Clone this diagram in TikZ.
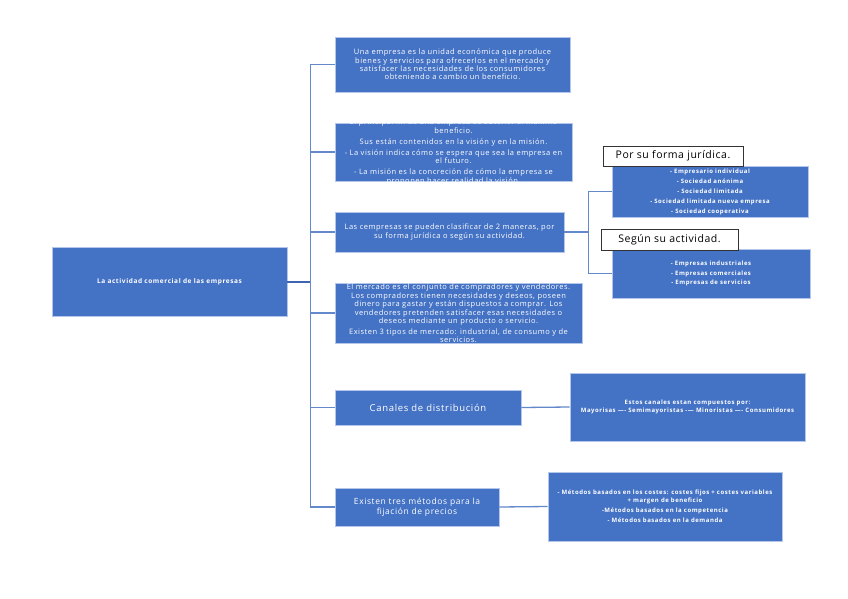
\documentclass[tikz,border=0pt]{standalone}
\usepackage{fontspec}
\setmainfont{Open Sans}
\newfontfamily\boxfont[LetterSpace=7]{Open Sans}
\newfontfamily\smallfont[LetterSpace=9]{Open Sans}
\newfontfamily\tagfont[LetterSpace=5]{Open Sans}
\begin{document}
\begin{tikzpicture}[x=1pt,y=-1pt,
  box/.style={draw=boxedge, line width=0.6pt, fill=boxblue, inner sep=0pt, text=white, align=center},
  txt/.style={inner sep=0pt, text=white, align=center},
  tag/.style={draw=black!80, line width=0.8pt, fill=white, inner sep=0pt, text=black, align=center, font=\tagfont\fontsize{10.5}{12}\selectfont},
  main/.style={draw=trunkblue, line width=2pt},
  link/.style={draw=linkblue, line width=1.3pt}]
\definecolor{boxblue}{HTML}{4472C4}
\definecolor{boxedge}{HTML}{B4C7EB}
\definecolor{trunkblue}{HTML}{3F64B0}
\definecolor{linkblue}{HTML}{6388CB}
\useasboundingbox (0,0) rectangle (848,599);
\fill[white] (0,0) rectangle (848,599);
% boxes
\node[box, minimum width=235pt, minimum height=69pt, font=\smallfont\bfseries\fontsize{6.5}{8}\selectfont] (root) at (169.5,281.5) {La actividad comercial de las empresas};
\node[box, minimum width=235pt, minimum height=55pt, font=\boxfont\fontsize{7.5}{8.3}\selectfont] (A) at (452.5,64.5)
 {Una empresa es la unidad económica que produce\\bienes y servicios para ofrecerlos en el mercado y\\satisfacer las necesidades de los consumidores\\obteniendo a cambio un beneficio.};
\node[box, minimum width=237pt, minimum height=58pt] (B) at (453.5,152) {};
\node[box, minimum width=229pt, minimum height=40pt, font=\boxfont\fontsize{7.5}{8.3}\selectfont] (C) at (449.5,232)
 {Las cempresas se pueden clasificar de 2 maneras, por\\su forma jurídica o según su actividad.};
\node[box, minimum width=247pt, minimum height=60pt] (D) at (458.5,313) {};
\node[box, minimum width=186pt, minimum height=35pt, font=\boxfont\fontsize{9.5}{11}\selectfont] (E) at (428,407.5) {Canales de distribución};
\node[box, minimum width=164pt, minimum height=38pt, font=\boxfont\fontsize{8.5}{10}\selectfont] (F) at (417,507)
 {Existen tres métodos para la\\fijación de precios};
\node[box, minimum width=196pt, minimum height=51pt, font=\smallfont\bfseries\fontsize{6}{10}\selectfont] (G) at (710,191.5)
 {- Empresario individual\\- Sociedad anónima\\- Sociedad limitada\\- Sociedad limitada nueva empresa\\- Sociedad cooperativa};
\node[box, minimum width=198pt, minimum height=49pt, font=\smallfont\bfseries\fontsize{6}{9.5}\selectfont] (H) at (711,273.5)
 {- Empresas industriales\\- Empresas comerciales\\- Empresas de servicios};
\node[box, minimum width=235pt, minimum height=68pt, font=\smallfont\bfseries\fontsize{6}{8}\selectfont] (I) at (687.5,407)
 {Estos canales estan compuestos por:\\Mayorisas —- Semimayoristas -— Minoristas —- Consumidores};
\node[box, minimum width=234pt, minimum height=69pt, font=\smallfont\bfseries\fontsize{6}{8}\selectfont] (J) at (665,506.5)
 {- Métodos basados en los costes: costes fijos + costes variables\\+ margen de beneficio\\[2pt]-Métodos basados en la competencia\\[2pt]- Métodos basados en la demanda};
% overflowing texts (white text invisible outside box)
\begin{scope}
\clip (B.north west) rectangle (B.south east);
\node[txt, font=\boxfont\fontsize{7.5}{8.5}\selectfont] (Btext) at (B.center)
 {El principal fin de una empresa es obtener el máximo\\beneficio.\\[2.5pt]Sus están contenidos en la visión y en la misión.\\[2.5pt]- La visión indica cómo se espera que sea la empresa en\\el futuro.\\[2.5pt]- La misión es la concreción de cómo la empresa se\\proponen hacer realidad la visión.};
\end{scope}
\begin{scope}
\clip (D.north west) rectangle (D.south east);
\node[txt, font=\boxfont\fontsize{7.5}{8.4}\selectfont] (Dtext) at ([yshift=-0.5pt]D.center)
 {El mercado es el conjunto de compradores y vendedores.\\Los compradores tienen necesidades y deseos, poseen\\dinero para gastar y están dispuestos a comprar. Los\\vendedores pretenden satisfacer esas necesidades o\\deseos mediante un producto o servicio.\\[2.5pt]Existen 3 tipos de mercado: industrial, de consumo y de\\servicios.};
\end{scope}
% tags
\node[tag, minimum width=140pt, minimum height=20pt] (P) at (673,156) {Por su forma jurídica.};
\node[tag, minimum width=137pt, minimum height=21pt] (S) at (669.5,239.5) {Según su actividad.};
% connectors
\draw[main] (root.east) -- ++(23,0) coordinate (t0);
\draw[link] (t0 |- A.west) -- (t0 |- F.west);
\foreach \n in {A,B,C,D,E,F} \draw[link] (t0 |- \n.west) -- (\n.west);
\draw[link] (C.east) -- ++(24,0) coordinate (s0);
\draw[link] (s0 |- G.west) -- (s0 |- H.west);
\draw[link] (s0 |- G.west) -- (G.west);
\draw[link] (s0 |- H.west) -- (H.west);
\draw[link] (E.east) -- (I.west);
\draw[link] (F.east) -- (J.west);
\end{tikzpicture}
\end{document}
